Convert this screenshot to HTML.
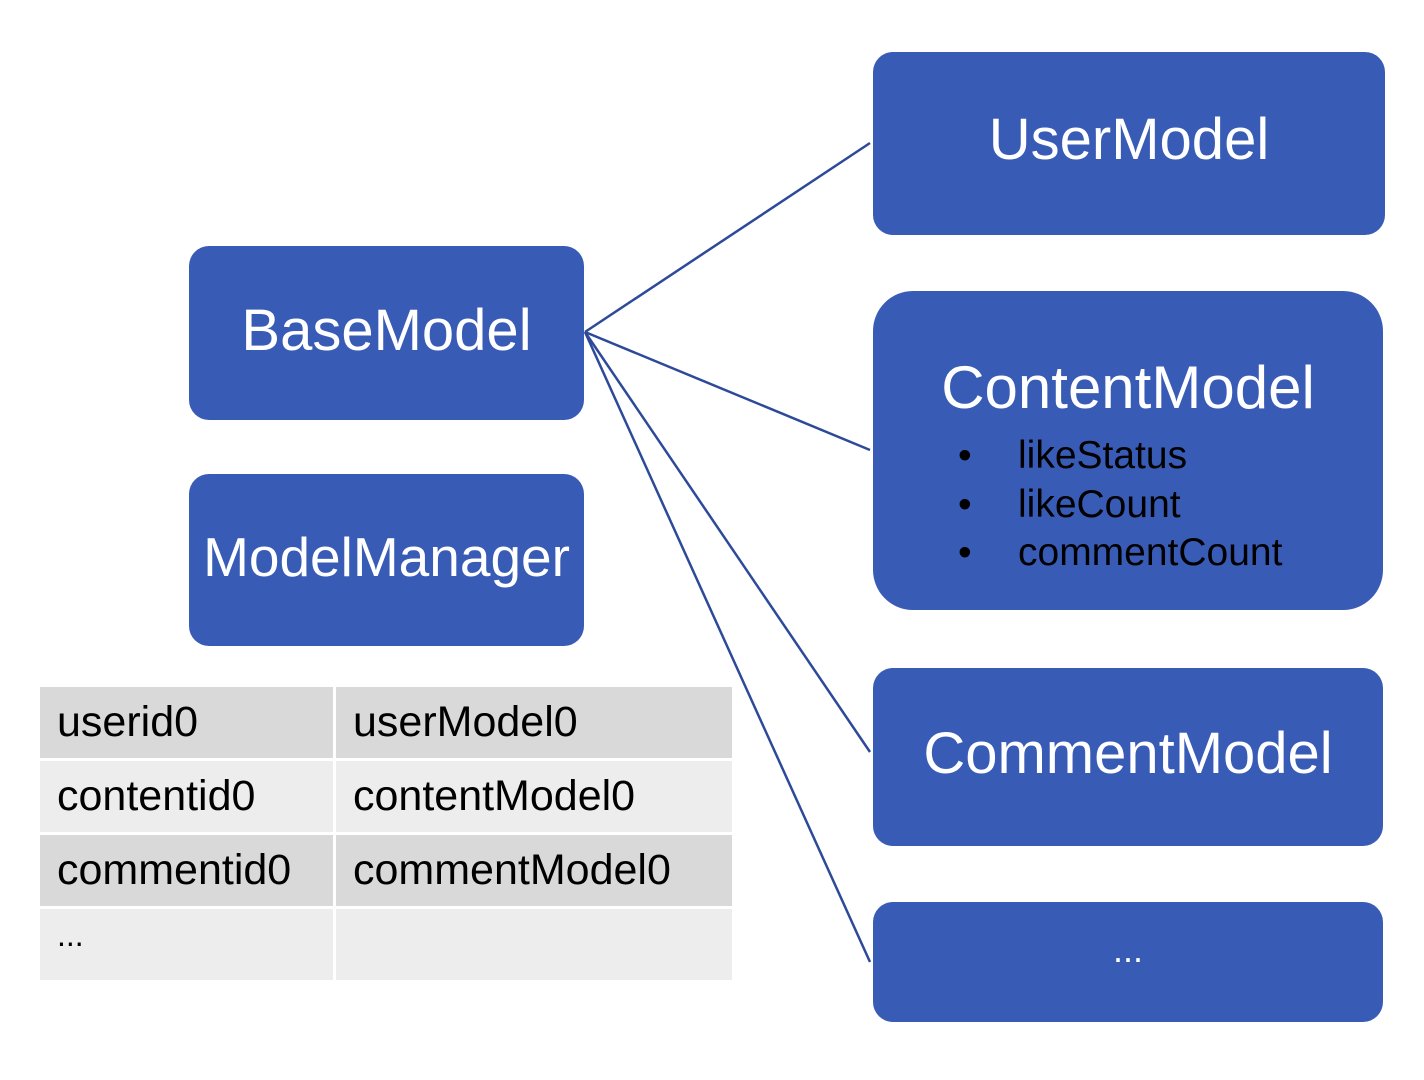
<!DOCTYPE html>
<html><head><meta charset="utf-8"><style>
body{margin:0;width:1424px;height:1080px;background:#fff;position:relative;overflow:hidden;font-family:"Liberation Sans","Noto Sans CJK SC",sans-serif}
.b{position:absolute;background:#385bb6;color:#fff;border-radius:20px;display:flex;align-items:center;justify-content:center;font-size:58px;white-space:nowrap}
.t{position:absolute;font-size:43px;color:#000;white-space:nowrap;display:flex;align-items:center;padding-left:17px;box-sizing:border-box}
.d{background:#d9d9d9}.l{background:#ededed}
.li{position:absolute;font-size:39px;color:#000;white-space:nowrap}
</style></head><body>
<svg width="1424" height="1080" style="position:absolute;left:0;top:0">
<g stroke="#2d4a9a" stroke-width="2.5" fill="none">
<line x1="585" y1="332" x2="870" y2="143"/>
<line x1="585" y1="332" x2="870" y2="450"/>
<line x1="585" y1="332" x2="870" y2="752"/>
<line x1="585" y1="332" x2="870" y2="962"/>
</g></svg>
<div class="b" style="left:189px;top:246px;width:395px;height:174px;padding-bottom:6px;box-sizing:border-box">BaseModel</div>
<div class="b" style="left:189px;top:474px;width:395px;height:172px;font-size:55px;padding-bottom:6px;box-sizing:border-box">ModelManager</div>
<div class="b" style="left:873px;top:52px;width:512px;height:183px;padding-bottom:8px;box-sizing:border-box">UserModel</div>
<div class="b" style="left:873px;top:291px;width:510px;height:319px;border-radius:40px;align-items:flex-start;padding-top:62px;box-sizing:border-box;font-size:60px">ContentModel</div>
<div class="li" style="left:958px;top:434px">•</div><div class="li" style="left:1018px;top:434px">likeStatus</div>
<div class="li" style="left:958px;top:483px">•</div><div class="li" style="left:1018px;top:483px">likeCount</div>
<div class="li" style="left:958px;top:531px">•</div><div class="li" style="left:1018px;top:531px">commentCount</div>
<div class="b" style="left:873px;top:668px;width:510px;height:178px;padding-bottom:8px;box-sizing:border-box">CommentModel</div>
<div class="b" style="left:873px;top:902px;width:510px;height:120px;font-size:36px;padding-bottom:24px;box-sizing:border-box">...</div>

<div class="t d" style="left:40px;top:687px;width:293px;height:71px">userid0</div>
<div class="t d" style="left:336px;top:687px;width:396px;height:71px">userModel0</div>
<div class="t l" style="left:40px;top:761px;width:293px;height:71px">contentid0</div>
<div class="t l" style="left:336px;top:761px;width:396px;height:71px">contentModel0</div>
<div class="t d" style="left:40px;top:835px;width:293px;height:71px">commentid0</div>
<div class="t d" style="left:336px;top:835px;width:396px;height:71px">commentModel0</div>
<div class="t l" style="left:40px;top:909px;width:293px;height:71px;align-items:flex-start;padding-top:8px;font-size:32px">...</div>
<div class="t l" style="left:336px;top:909px;width:396px;height:71px"></div>
</body></html>
